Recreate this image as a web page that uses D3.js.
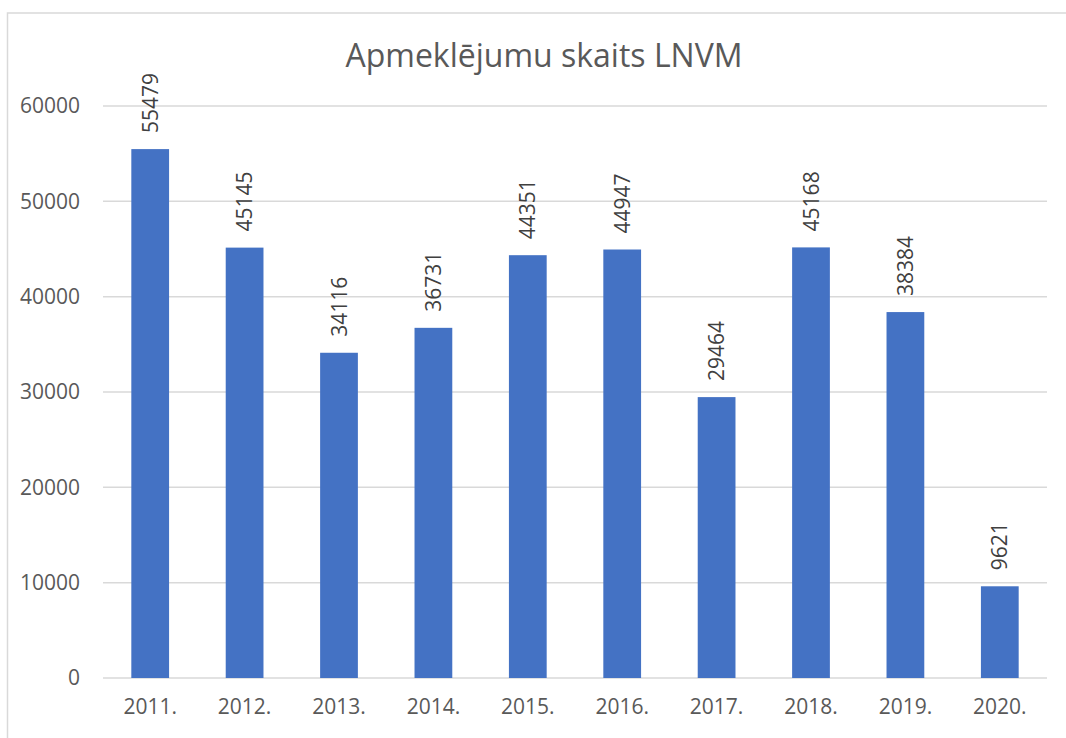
<!DOCTYPE html>
<html>
<head>
<meta charset="utf-8">
<script src="https://cdn.jsdelivr.net/npm/d3@7"></script>
<style>
  body { margin: 0; background: #fff; }
  text { font-family: "Open Sans", "Noto Sans", sans-serif; }
</style>
</head>
<body>
<svg id="chart" width="1066" height="738"></svg>
<script>
const years = ["2011.", "2012.", "2013.", "2014.", "2015.", "2016.", "2017.", "2018.", "2019.", "2020."];
const visits = [55479, 45145, 34116, 36731, 44351, 44947, 29464, 45168, 38384, 9621];
const yTicks = [0, 10000, 20000, 30000, 40000, 50000, 60000];
const title = "Apmeklējumu skaits LNVM";

const margin = { top: 106, right: 19, bottom: 60, left: 103 };
const width = 1066 - margin.left - margin.right;
const height = 738 - margin.top - margin.bottom;
const fs = 21;

const svg = d3.select("#chart");

// chart frame (runs off the right and bottom edge)
svg.append("rect")
  .attr("x", 7.5).attr("y", 13)
  .attr("width", 1100).attr("height", 800)
  .attr("fill", "none")
  .attr("stroke", "#d9d9d9")
  .attr("stroke-width", 1.5);

svg.append("text")
  .attr("x", 544).attr("y", 67)
  .attr("text-anchor", "middle")
  .attr("font-size", 32)
  .attr("fill", "#595959")
  .text(title);

const g = svg.append("g")
  .attr("transform", `translate(${margin.left},${margin.top})`);

const x = d3.scaleBand()
  .domain(years)
  .range([0, width])
  .paddingInner(0.6)
  .paddingOuter(0.3);

const y = d3.scaleLinear()
  .domain([0, 60000])
  .range([height, 0]);

// gridlines
g.append("g")
  .selectAll("line")
  .data(yTicks)
  .enter().append("line")
  .attr("x1", 0).attr("x2", width)
  .attr("y1", d => y(d)).attr("y2", d => y(d))
  .attr("stroke", "#d9d9d9")
  .attr("stroke-width", 1.5);

const yAxis = d3.axisLeft(y).tickValues(yTicks).tickSize(0).tickPadding(23).tickFormat(d3.format("d"));
g.append("g")
  .call(yAxis)
  .call(a => a.select(".domain").remove())
  .selectAll("text")
  .attr("font-size", fs)
  .attr("fill", "#595959");

const xAxis = d3.axisBottom(x).tickSize(0).tickPadding(21);
g.append("g")
  .attr("transform", `translate(0,${height})`)
  .call(xAxis)
  .call(a => a.select(".domain").remove())
  .selectAll("text")
  .attr("font-size", fs)
  .attr("fill", "#595959");

// bars
g.selectAll("rect.bar")
  .data(visits)
  .enter().append("rect")
  .attr("class", "bar")
  .attr("x", (d, i) => x(years[i]))
  .attr("y", d => y(d))
  .attr("width", x.bandwidth())
  .attr("height", d => height - y(d))
  .attr("fill", "#4472c4");

// data labels, rotated
g.selectAll("text.lbl")
  .data(visits)
  .enter().append("text")
  .attr("class", "lbl")
  .attr("transform", (d, i) => `translate(${x(years[i]) + x.bandwidth() / 2 + 7.5},${y(d) - 16}) rotate(-90)`)
  .attr("font-size", fs)
  .attr("fill", "#404040")
  .text(d => d);
</script>
</body>
</html>
